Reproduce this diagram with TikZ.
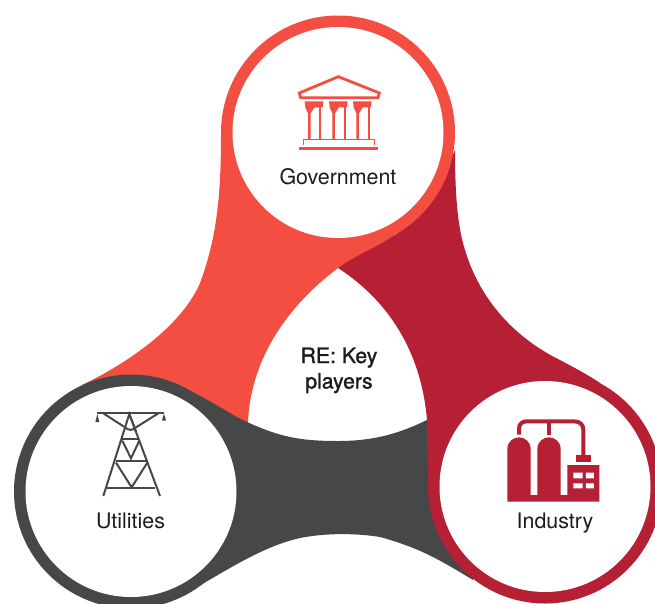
\documentclass[tikz,border=0pt]{standalone}
\usepackage{fontspec}
\setmainfont{TeX Gyre Heros}
\newfontfamily\corefont[FakeBold=1.4]{TeX Gyre Heros}
\definecolor{coral}{HTML}{F34E41}
\definecolor{crimson}{HTML}{B62035}
\definecolor{slate}{HTML}{464847}
\definecolor{ink}{HTML}{1C1C1C}
\tikzset{
  label text/.style={font=\fontsize{21.4}{25}\selectfont,text=ink,inner sep=0pt,anchor=base},
  core text/.style={font=\corefont\fontsize{21.2}{25.5}\selectfont,text=ink,inner sep=0pt,anchor=base},
  hub/.style={fill=white,draw=none},
  tower line/.style={slate,line width=2pt}
}
\begin{document}
\begin{tikzpicture}[x=1pt,y=-1pt]
\useasboundingbox (0,0) rectangle (655,603);
\clip (0,0) rectangle (655,603);
% coral wedge
\fill[coral] (221,132) .. controls (221,190) and (218,235) .. (200,283)
  .. controls (182,325) and (130,362) .. (82,385)
  -- (131,491) -- (248,422)
  .. controls (250,375) and (272,318) .. (338,268)
  -- (392,240) -- (420,180) -- (338,132) -- cycle;
% dark wedge and ring
\fill[slate] (131,491.5) circle[radius=117pt];
\fill[slate] (160,378) .. controls (200,392) and (225,412) .. (247,422)
  .. controls (280,437) and (300,441) .. (338,441)
  .. controls (375,441) and (400,433) .. (427,420)
  -- (480,500) -- (473,580)
  .. controls (440,560) and (420,548) .. (380,537)
  .. controls (355,533) and (325,533) .. (300,538)
  .. controls (265,546) and (235,565) .. (187,593)
  -- (131,491) -- cycle;
% crimson wedge and ring
\fill[crimson] (545,486.5) circle[radius=117pt];
\fill[crimson] (338,268) .. controls (358,254) and (375,248) .. (387,240)
  .. controls (405,229) and (420,217) .. (433,200)
  -- (455,150)
  .. controls (455,190) and (457,225) .. (465,250)
  .. controls (480,300) and (515,338) .. (560,360)
  .. controls (575,368) and (590,376) .. (600,383)
  -- (545,486) -- (430,500)
  .. controls (428,470) and (427,445) .. (427,420)
  .. controls (422,360) and (395,305) .. (338,268) -- cycle;
% coral ring over crimson
\fill[coral] (338,132.5) circle[radius=117pt];
% hubs
\fill[hub] (338,132.5) circle[radius=105.5pt];
\fill[hub] (131,491.5) circle[radius=105.5pt];
\fill[hub] (545,486.5) circle[radius=105.5pt];
% government icon
\begin{scope}[shift={(270,50)},x=.3333pt,y=-.3333pt]
  \draw[coral,line width=2.8pt,line join=miter] (205,80) -- (88,129) -- (92,143) -- (324,143) -- (328,129) -- cycle;
  \foreach \cx in {132,205,277}{
    \fill[coral] (\cx-28,154) -- (\cx+28,154) -- (\cx+26,172) -- (\cx+2,172) -- (\cx-10,190) -- (\cx-10,270) -- (\cx-18,270) -- (\cx-18,190) -- (\cx-26,172) -- cycle;
    \fill[coral] (\cx+16,172) rectangle (\cx+22,270);
  }
  \draw[coral,line width=1pt] (100,285) -- (100,268) -- (315,268) -- (315,285);
  \fill[coral] (88,290) rectangle (325,301);
\end{scope}
% tower icon
\begin{scope}[shift={(70,390)},x=.3333pt,y=-.3333pt]
  \draw[tower line] (82,70) -- (282,70);
  \draw[tower line] (100,318) -- (178,72) -- (270,318);
  \draw[tower line] (112,295) -- (255,295) (138,212) -- (232,212) (157,148) -- (208,148);
  \draw[tower line] (138,218) -- (185,292) -- (232,218);
  \draw[tower line] (157,152) -- (183,205) -- (208,152);
  \draw[tower line] (100,70) -- (165,112) .. controls (175,122) and (188,122) .. (198,112) -- (265,70);
  \draw[tower line] (178,72) -- (198,125);
  \fill[slate] (82,72) -- (85,84) -- (88,96) -- (76,96) -- (79,84) -- cycle;
  \fill[slate] (282,72) -- (285,80) -- (288,92) -- (276,92) -- (279,80) -- cycle;
\end{scope}
% industry icon
\begin{scope}[shift={(490,400)},x=.3333pt,y=-.3333pt]
  \fill[crimson] (52,305) -- (52,147) .. controls (52,125) and (70,112) .. (87,112) .. controls (104,112) and (122,125) .. (122,147) -- (122,285) -- (142,285) -- (142,147) .. controls (142,125) and (160,112) .. (177,112) .. controls (194,112) and (212,125) .. (212,147) -- (212,285) -- (232,285) -- (232,195) -- (328,195) -- (328,305) -- cycle;
  \fill[white] (250,218) rectangle (278,235) (288,218) rectangle (312,235) (250,250) rectangle (278,265) (288,250) rectangle (312,265);
  \fill[crimson] (257,165) rectangle (303,187);
  \draw[crimson,line width=4pt] (87,104) -- (87,86) .. controls (87,72) and (97,64) .. (110,64) -- (252,64) .. controls (270,64) and (280,74) .. (280,90) -- (280,165);
  \draw[crimson,line width=4pt] (178,64) -- (178,104);
\end{scope}
% labels
\node[label text] (gov) at (338,184) {Government};
\node[label text] (uti) at (130.5,528) {Utilities};
\node[label text] (ind) at (555,528) {Industry};
\node[core text] (coreA) at (339,363) {RE: Key};
\node[core text] (coreB) at (339,388.5) {players};
\end{tikzpicture}
\end{document}
